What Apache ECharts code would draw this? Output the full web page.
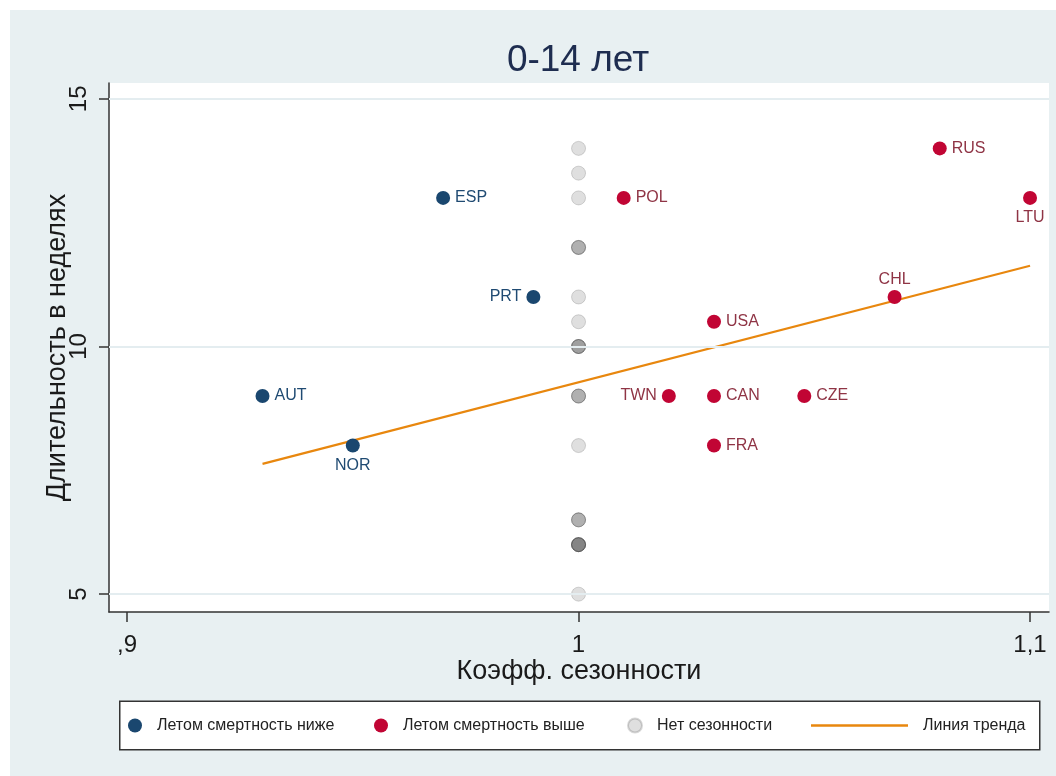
<!DOCTYPE html>
<html><head><meta charset="utf-8">
<script src="https://cdn.jsdelivr.net/npm/echarts@6/dist/echarts.min.js"></script>
<style>
html,body{margin:0;padding:0;background:#fff;}
#c{position:absolute;left:10px;top:10px;width:1046px;height:766px;}
</style></head>
<body><div id="c"></div>
<script>
// ---- data ----
const titleText = '0-14 лет';
const xName = 'Коэфф. сезонности';
const yName = 'Длительность в неделях';
const seriesNames = ['Летом смертность ниже', 'Летом смертность выше', 'Нет сезонности', 'Линия тренда'];

const blueNames = ['AUT', 'NOR', 'ESP', 'PRT'];
const blueX = [0.93, 0.95, 0.97, 0.99];
const blueY = [9, 8, 13, 11];

const redNames = ['POL', 'USA', 'TWN', 'CAN', 'FRA', 'CZE', 'CHL', 'RUS', 'LTU'];
const redX = [1.01, 1.03, 1.02, 1.03, 1.03, 1.05, 1.07, 1.08, 1.10];
const redY = [13, 10.5, 9, 9, 8, 9, 11, 14, 13];

const grayX = [1,1,1,1,1,1,1,1,1,1,1,1,1,1,1,1,1,1,1,1,1,1,1,1,1,1];
const grayY = [14, 13.5, 13, 12, 12, 12, 11, 10.5, 10, 10, 10, 10, 9, 9, 9, 8, 6.5, 6.5, 6.5, 6, 6, 6, 6, 6, 6, 5];

const trendX = [0.93, 1.10];
const trendY = [7.63, 11.63];

const xTicks = [0.9, 1, 1.1];
const xTickLabels = [',9', '1', '1,1'];
const yTicks = [5, 10, 15];

// label placement (style)
const labelPos = {NOR: 'bottom', LTU: 'bottom', PRT: 'left', TWN: 'left', CHL: 'top'};

// ---- chart ----
const FONT = "'Liberation Sans', Arial, sans-serif";
const BLUE = '#1a476f', RED = '#c10534', ORANGE = '#e8870e';
const BLUE_TXT = '#1f4a72', RED_TXT = '#8f3445';

function pts(names, xs, ys, txtColor) {
  return names.map((n, i) => ({
    value: [xs[i], ys[i]],
    name: n,
    label: {
      show: true, formatter: n, position: labelPos[n] || 'right',
      distance: labelPos[n] === 'top' ? 2 : 5,
      color: txtColor, fontSize: 16, fontFamily: FONT
    }
  }));
}

const chart = echarts.init(document.getElementById('c'), null, {renderer: 'canvas'});
const legendCommon = {
  orient: 'horizontal', padding: 0, itemGap: 0,
  top: 707.5, itemWidth: 14, itemHeight: 14,
  textStyle: {fontSize: 16, fontFamily: FONT, color: '#222', padding: [2, 0, 0, 10]},
  selectedMode: false
};
chart.setOption({
  backgroundColor: '#e8f0f2',
  animation: false,
  textStyle: {fontFamily: FONT},
  title: {
    text: titleText, left: 563, textAlign: 'center', top: 27,
    textStyle: {fontSize: 37, fontWeight: 'normal', color: '#1e2d50', fontFamily: FONT}
  },
  grid: {left: 99, right: 7, top: 73, bottom: 164, show: true, backgroundColor: '#fff', borderWidth: 0},
  graphic: [{
    type: 'rect', left: 109, top: 690.5, shape: {width: 920, height: 48.5},
    style: {fill: '#fff', stroke: '#333', lineWidth: 1.5}, z: 0, silent: true
  }],
  legend: [
    Object.assign({}, legendCommon, {left: 118, data: [seriesNames[0]]}),
    Object.assign({}, legendCommon, {left: 364, data: [seriesNames[1]]}),
    Object.assign({}, legendCommon, {left: 617, data: [seriesNames[2]]}),
    Object.assign({}, legendCommon, {left: 801, top: 707.5, itemWidth: 97, itemHeight: 2.5,
      data: [{name: seriesNames[3], icon: 'rect'}]})
  ],
  xAxis: {
    type: 'value', min: 0.896, max: 1.1042,
    name: xName, nameLocation: 'middle', nameGap: 46, nameMoveOverlap: false,
    nameTextStyle: {fontSize: 27, color: '#1a1a1a', fontFamily: FONT},
    axisLine: {show: true, onZero: false, lineStyle: {color: '#333', width: 1.5}},
    axisTick: {show: true, length: 10, customValues: xTicks, lineStyle: {color: '#333', width: 1.5}},
    axisLabel: {customValues: xTicks, margin: 21, fontSize: 24, color: '#1a1a1a', fontFamily: FONT,
      formatter: v => { const i = xTicks.findIndex(t => Math.abs(t - v) < 1e-9); return i >= 0 ? xTickLabels[i] : ''; }},
    splitLine: {show: false}
  },
  yAxis: {
    type: 'value', min: 4.64, max: 15.32,
    name: yName, nameLocation: 'middle', nameGap: 38, nameRotate: 90, nameMoveOverlap: false,
    nameTextStyle: {fontSize: 27, color: '#1a1a1a', fontFamily: FONT},
    axisLine: {show: true, onZero: false, lineStyle: {color: '#333', width: 1.5}},
    axisTick: {show: true, length: 10, customValues: yTicks, lineStyle: {color: '#333', width: 1.5}},
    axisLabel: {customValues: yTicks, margin: 18, rotate: 90, fontSize: 24, color: '#1a1a1a', fontFamily: FONT},
    splitLine: {show: false}
  },
  series: [
    {
      name: 'grid', type: 'scatter', data: [], z: 1, silent: true,
      markLine: {
        silent: true, symbol: 'none', animation: false,
        label: {show: false},
        lineStyle: {color: '#e4edf0', width: 2, type: 'solid'},
        data: yTicks.map(v => ({yAxis: v}))
      }
    },
    {
      name: seriesNames[2], type: 'scatter', symbolSize: 14, z: 3,
      itemStyle: {color: 'rgba(85,85,85,0.19)', borderColor: 'rgba(60,60,60,0.2)', borderWidth: 1, opacity: 1},
      data: grayX.map((x, i) => [x, grayY[i]])
    },
    {
      name: seriesNames[3], type: 'line', symbol: 'none', z: 4,
      itemStyle: {color: ORANGE},
      lineStyle: {color: ORANGE, width: 2.2},
      data: trendX.map((x, i) => [x, trendY[i]])
    },
    {
      name: seriesNames[0], type: 'scatter', symbolSize: 14, z: 5,
      itemStyle: {color: BLUE, opacity: 1},
      data: pts(blueNames, blueX, blueY, BLUE_TXT)
    },
    {
      name: seriesNames[1], type: 'scatter', symbolSize: 14, z: 5,
      itemStyle: {color: RED, opacity: 1},
      data: pts(redNames, redX, redY, RED_TXT)
    }
  ]
});
</script>
</body></html>
